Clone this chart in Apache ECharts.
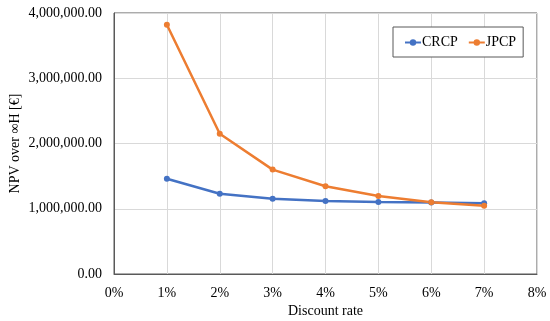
<!DOCTYPE html>
<html><head><meta charset="utf-8">
<script src="https://cdn.jsdelivr.net/npm/echarts@6/dist/echarts.min.js"></script>
<style>html,body{margin:0;padding:0;background:#fff}#c{width:550px;height:321px}</style>
</head><body><div id="c"></div>
<script>
const rates = [1, 2, 3, 4, 5, 6, 7];
const crcp = [1460000, 1230000, 1155000, 1120000, 1105000, 1097000, 1085000];
const jpcp = [3820000, 2150000, 1600000, 1345000, 1195000, 1100000, 1045000];
const seriesNames = ['CRCP', 'JPCP'];
const xTicks = [0, 1, 2, 3, 4, 5, 6, 7, 8];
const yTicks = [0, 1000000, 2000000, 3000000, 4000000];

const font = '"Liberation Serif", "Times New Roman", serif';
function fmtY(v) {
  return v.toLocaleString('en-US', {minimumFractionDigits: 2, maximumFractionDigits: 2});
}
const chart = echarts.init(document.getElementById('c'));
chart.setOption({
  animation: false,
  textStyle: {fontFamily: font},
  grid: {left: 114, right: 13, top: 13, bottom: 47, show: true, borderColor: '#595959', borderWidth: 1,
         outerBoundsMode: 'none', containLabel: false},
  legend: {
    left: 393, top: 27, orient: 'horizontal',
    backgroundColor: '#fff', borderColor: '#595959', borderWidth: 1,
    padding: [8, 7, 7, 11], itemGap: 10, itemWidth: 16, itemHeight: 8,
    textStyle: {fontFamily: font, fontSize: 14, color: '#000', padding: [0, 0, 0, -4], lineHeight: 15},
    data: seriesNames
  },
  xAxis: {
    type: 'value', min: xTicks[0], max: xTicks[xTicks.length - 1], interval: 1,
    name: 'Discount rate', nameLocation: 'middle', nameGap: 30, nameMoveOverlap: false,
    nameTextStyle: {fontFamily: font, fontSize: 14, color: '#000'},
    axisLine: {show: true, lineStyle: {color: '#595959'}},
    axisTick: {show: false},
    axisLabel: {formatter: '{value}%', fontFamily: font, fontSize: 14, color: '#000', margin: 12},
    splitLine: {show: true, lineStyle: {color: '#d9d9d9'}}
  },
  yAxis: {
    type: 'value', min: yTicks[0], max: yTicks[yTicks.length - 1], interval: 1000000,
    name: 'NPV over \u221EH [\u20AC]', nameLocation: 'middle', nameGap: 92, nameRotate: 90, nameMoveOverlap: false,
    nameTextStyle: {fontFamily: font, fontSize: 14, color: '#000'},
    axisLine: {show: true, lineStyle: {color: '#595959'}},
    axisTick: {show: false},
    axisLabel: {formatter: fmtY, fontFamily: font, fontSize: 14, color: '#000', margin: 12},
    splitLine: {show: true, lineStyle: {color: '#d9d9d9'}}
  },
  series: [
    {name: seriesNames[0], type: 'line', data: rates.map((r, i) => [r, crcp[i]]),
     color: '#4472C4', symbol: 'circle', symbolSize: 6, lineStyle: {width: 2.5}},
    {name: seriesNames[1], type: 'line', data: rates.map((r, i) => [r, jpcp[i]]),
     color: '#ED7D31', symbol: 'circle', symbolSize: 6, lineStyle: {width: 2.5}}
  ]
});
</script></body></html>
